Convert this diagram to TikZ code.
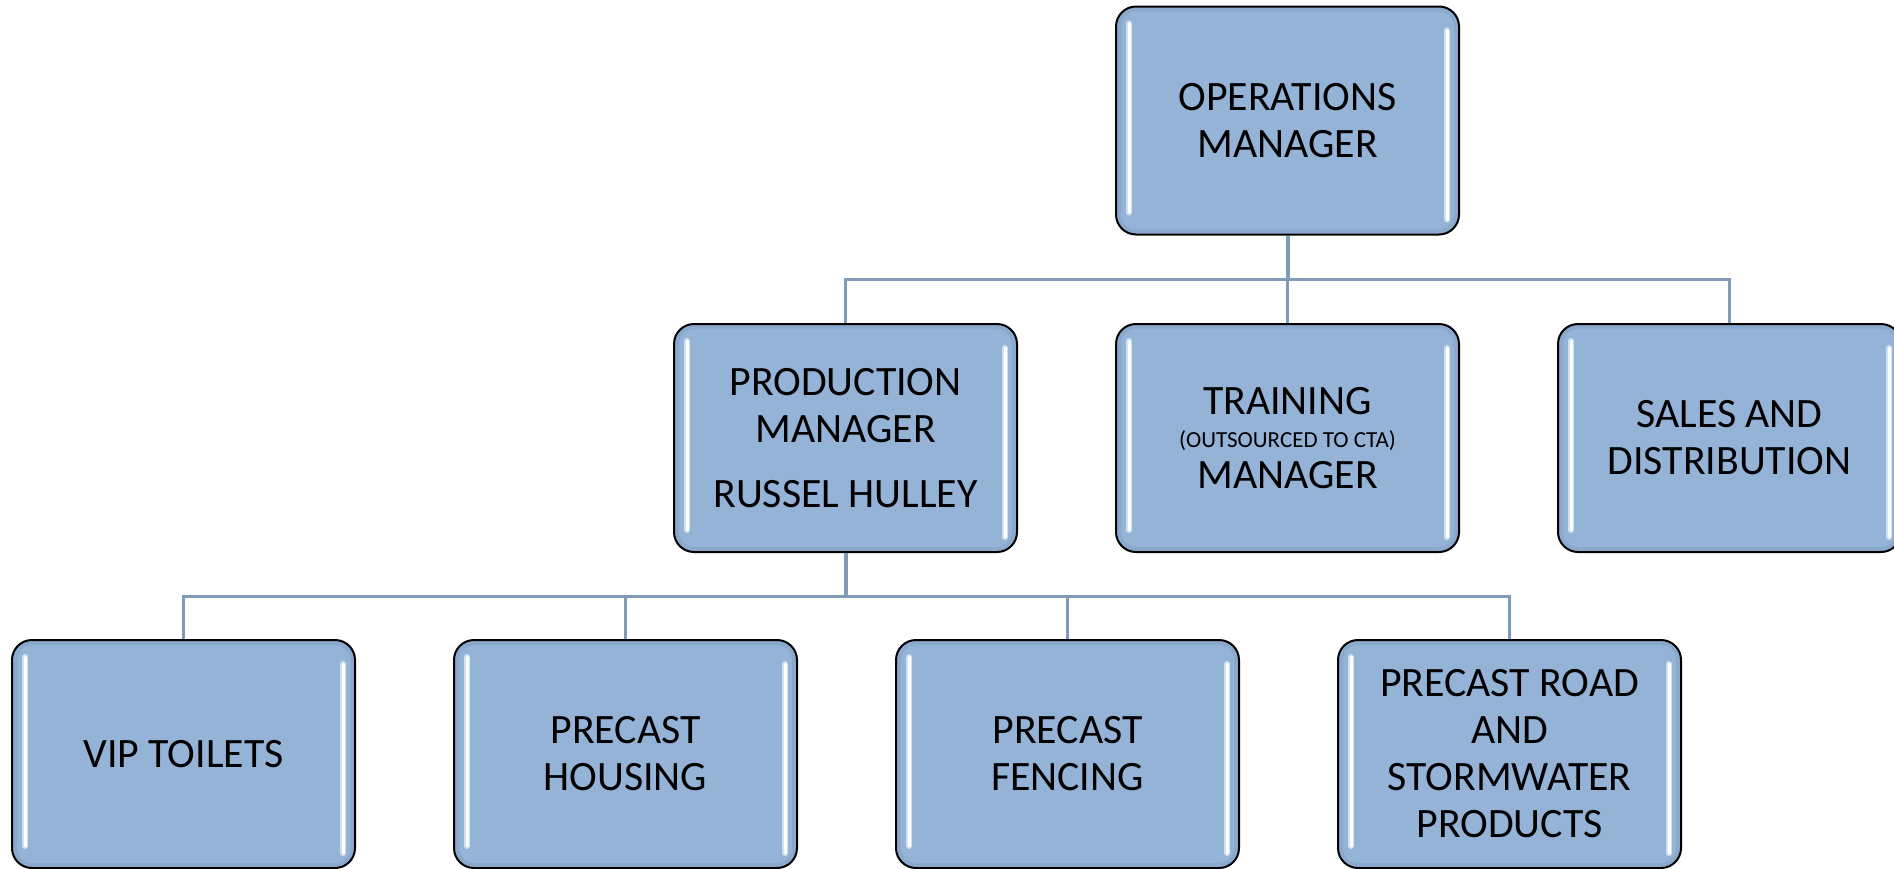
\documentclass[tikz,border=0pt]{standalone}
\usepackage{fontspec}
\setmainfont{Carlito}
\usepackage{xcolor}
\usepackage{tikz}
\usetikzlibrary{positioning,calc}

\definecolor{boxblue}{HTML}{95B3D7}
\definecolor{linkblue}{HTML}{7F9BB8}
\definecolor{rimblue}{HTML}{7E9DC2}
\definecolor{glowblue}{HTML}{CFE0F2}

\begin{document}
\begin{tikzpicture}[
    x=0.5pt, y=-0.5pt,
    node distance=48.5pt,
    unit/.style={draw=black, line width=1pt, rounded corners=10pt, fill=boxblue,
        minimum width=171.5pt, minimum height=114pt, align=center,
        font=\fontsize{20.9}{23.5}\selectfont,
        path picture={
            \draw [rimblue, line width=5pt, opacity=0.45, rounded corners=10pt]
                (path picture bounding box.south west) rectangle (path picture bounding box.north east);
            \draw [glowblue, line width=3pt, line cap=round]
                ([xshift=6.5pt,yshift=-8.5pt]path picture bounding box.north west) -- ([xshift=6.5pt,yshift=11pt]path picture bounding box.south west)
                ([xshift=-6pt,yshift=-12pt]path picture bounding box.north east) -- ([xshift=-6pt,yshift=7.5pt]path picture bounding box.south east);
            \draw [white, line width=1.5pt, line cap=round]
                ([xshift=6.5pt,yshift=-8.5pt]path picture bounding box.north west) -- ([xshift=6.5pt,yshift=11pt]path picture bounding box.south west)
                ([xshift=-6pt,yshift=-12pt]path picture bounding box.north east) -- ([xshift=-6pt,yshift=7.5pt]path picture bounding box.south east);
        }},
    link/.style={draw=linkblue, line width=1.5pt},
    trunk/.style={link, line width=2pt}
]
    \useasboundingbox (0,0) rectangle (1894,868);

    % Top of the chart
    \node [unit] (ops) at (1287.5,120.5) {OPERATIONS\\MANAGER};

    % Managers
    \node [unit] (prod) at (845.5,438) {PRODUCTION\\MANAGER\\[9pt]RUSSEL HULLEY};
    \node [unit, right=of prod] (train) {TRAINING\\[-7pt]{\fontsize{11.5}{13}\selectfont (OUTSOURCED TO CTA)}\\[-3pt]MANAGER};
    \node [unit, right=of train] (sales) {SALES AND\\DISTRIBUTION};

    % Production units
    \node [unit] (vip) at (183.5,754) {VIP TOILETS};
    \node [unit, right=of vip] (housing) {PRECAST\\HOUSING};
    \node [unit, right=of housing] (fencing) {PRECAST\\FENCING};
    \node [unit, right=of fencing] (road) {PRECAST ROAD\\AND\\STORMWATER\\PRODUCTS};

    % Connectors
    \coordinate (upperbus) at (0,279);
    \coordinate (lowerbus) at (0,596);
    \draw [trunk] (ops.south) -- (ops.south |- upperbus);
    \draw [link] (prod.north) -- (prod.north |- upperbus) -- (sales.north |- upperbus) -- (sales.north);
    \draw [link] (train.north) -- (train.north |- upperbus);
    \draw [trunk] (prod.south) -- (prod.south |- lowerbus);
    \draw [link] (vip.north) -- (vip.north |- lowerbus) -- (road.north |- lowerbus) -- (road.north);
    \foreach \unitname in {housing,fencing}
        \draw [link] (\unitname.north) -- (\unitname.north |- lowerbus);

\end{tikzpicture}
\end{document}
